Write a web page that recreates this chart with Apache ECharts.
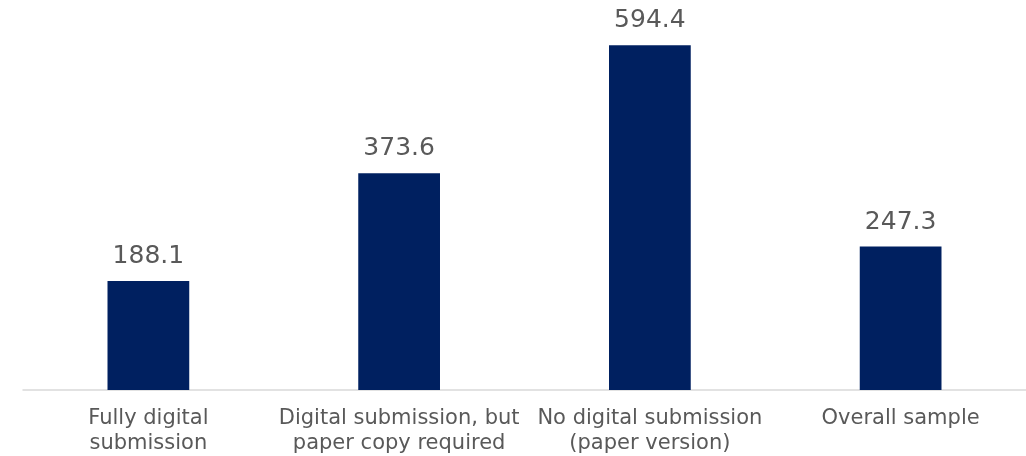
<!DOCTYPE html>
<html>
<head>
<meta charset="utf-8">
<script src="https://cdn.jsdelivr.net/npm/echarts@6/dist/echarts.min.js"></script>
<style>
  html, body { margin: 0; padding: 0; background: #fff; }
  #chart { width: 1026px; height: 456px; }
</style>
</head>
<body>
<div id="chart"></div>
<script>
// Submission categories and average values
const categories = [
  'Fully digital\nsubmission',
  'Digital submission, but\npaper copy required',
  'No digital submission\n(paper version)',
  'Overall sample'
];
const values = [188.1, 373.6, 594.4, 247.3];

const chart = echarts.init(document.getElementById('chart'));
chart.setOption({
  animation: false,
  grid: { left: 23, right: -2, top: 42, bottom: 64 },
  xAxis: {
    type: 'category',
    data: categories,
    axisLine: { show: true, lineStyle: { color: '#d9d9d9', width: 1.5 } },
    axisTick: { show: false },
    axisLabel: {
      color: '#595959',
      fontFamily: 'DejaVu Sans',
      fontSize: 21,
      lineHeight: 25,
      margin: 16,
      interval: 0
    }
  },
  yAxis: {
    type: 'value',
    min: 0,
    max: 600,
    show: false,
    splitLine: { show: false }
  },
  series: [{
    type: 'bar',
    data: values,
    barWidth: '32.6%',
    itemStyle: { color: '#002060' },
    label: {
      show: true,
      position: 'top',
      distance: 12,
      color: '#595959',
      fontFamily: 'DejaVu Sans',
      fontSize: 25,
      formatter: p => p.value.toFixed(1)
    }
  }]
});
</script>
</body>
</html>
